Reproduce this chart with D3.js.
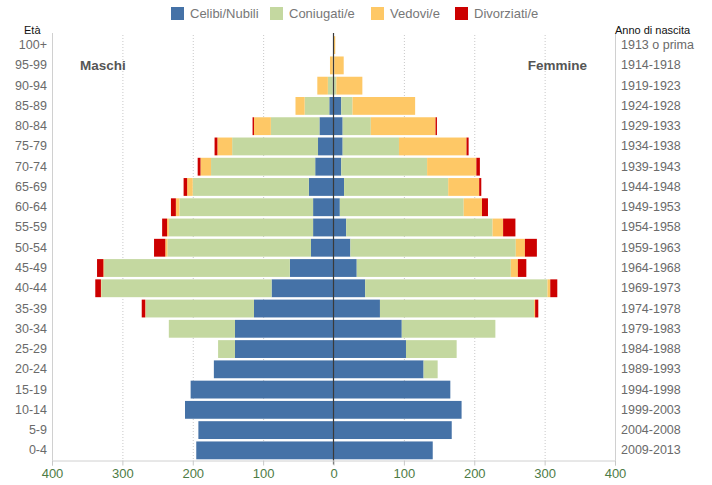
<!DOCTYPE html>
<html><head><meta charset="utf-8">
<script src="https://cdn.jsdelivr.net/npm/d3@7"></script>
<style>
html,body{margin:0;padding:0;background:#fff;}
svg{display:block;font-family:"Liberation Sans",Arial,sans-serif;}
</style></head>
<body><svg id="c" width="712" height="485"></svg>
<script>
const ages = ["100+","95-99","90-94","85-89","80-84","75-79","70-74","65-69","60-64","55-59","50-54","45-49","40-44","35-39","30-34","25-29","20-24","15-19","10-14","5-9","0-4"];
const years = ["1913 o prima","1914-1918","1919-1923","1924-1928","1929-1933","1934-1938","1939-1943","1944-1948","1949-1953","1954-1958","1959-1963","1964-1968","1969-1973","1974-1978","1979-1983","1984-1988","1989-1993","1994-1998","1999-2003","2004-2008","2009-2013"];
const seriesNames = ["Celibi/Nubili","Coniugati/e","Vedovi/e","Divorziati/e"];
const seriesColors = ["#4572a7","#c4d8a0","#fec866","#cc0000"];

const maleCelibi     = [0, 0, 1, 6, 20, 22, 26, 35, 29, 29, 32, 62, 88, 113, 140, 140, 170, 203, 211, 192, 195];
const maleConiugati  = [0, 1, 7, 35, 69, 122, 148, 165, 190, 205, 204, 264, 242, 154, 94, 24, 0, 0, 0, 0, 0];
const maleVedovi     = [0.5, 4, 15, 13, 24, 21, 15, 8, 5, 2.5, 3, 1, 0.5, 0.5, 0, 0, 0, 0, 0, 0, 0];
const maleDivorziati = [0, 0, 0, 0, 2, 4, 4, 5, 7, 7, 16, 9, 8, 5, 0, 0, 0, 0, 0, 0, 0];

const femaleNubili     = [0.5, 0.5, 1, 11, 13, 13, 11, 15, 9, 18, 24, 33, 45, 66, 97, 103, 128, 166, 182, 168, 141];
const femaleConiugate  = [0, 0.5, 3, 16, 40, 80, 122, 148, 176, 208, 235, 219, 259, 219, 133, 72, 20, 0, 0, 0, 0];
const femaleVedove     = [2, 13.5, 37, 89, 92, 96, 70, 44, 26, 15, 13, 10, 4, 1.5, 0, 0, 0, 0, 0, 0, 0];
const femaleDivorziate = [0, 0, 0, 0, 2, 3, 5, 3, 8.5, 17.5, 17, 12, 10, 4.5, 0, 0, 0, 0, 0, 0, 0];

const xTicks = [-400,-300,-200,-100,0,100,200,300,400];

const svg = d3.select("#c");
const pLeft = 52, pRight = 615, pTop = 35, pBottom = 460.5;

const x = d3.scaleLinear().domain([-400,400]).range([pLeft,pRight]);
const y = d3.scaleBand().domain(ages).range([pTop,pBottom]).paddingInner(0.12).paddingOuter(0.06);
const yR = d3.scaleBand().domain(years).range([pTop,pBottom]).paddingInner(0.12).paddingOuter(0.06);

// gridlines
svg.append("g").selectAll("line").data(xTicks.filter(t=>t!==0 && Math.abs(t)!==400)).join("line")
  .attr("x1",d=>x(d)+0.5).attr("x2",d=>x(d)+0.5).attr("y1",pTop).attr("y2",pBottom)
  .attr("stroke","#c8c8c8").attr("stroke-width",1).attr("stroke-dasharray","1,2");

// side lines
[pLeft,pRight].forEach(px=>{
  svg.append("line").attr("x1",px+0.5).attr("x2",px+0.5).attr("y1",pTop-2).attr("y2",pBottom)
    .attr("stroke","#d0d0d0");
});

// stacked bars
const maleSeries = [maleCelibi, maleConiugati, maleVedovi, maleDivorziati];
const femaleSeries = [femaleNubili, femaleConiugate, femaleVedove, femaleDivorziate];
const gBars = svg.append("g");
ages.forEach((a,i)=>{
  let cum = 0;
  maleSeries.forEach((s,k)=>{
    const v = s[i];
    if(v>0){
      gBars.append("rect")
        .attr("x", x(-(cum+v))).attr("width", x(-cum)-x(-(cum+v)))
        .attr("y", y(a)).attr("height", y.bandwidth())
        .attr("fill", seriesColors[k]);
    }
    cum += v;
  });
  cum = 0;
  femaleSeries.forEach((s,k)=>{
    const v = s[i];
    if(v>0){
      gBars.append("rect")
        .attr("x", x(cum)).attr("width", x(cum+v)-x(cum))
        .attr("y", y(a)).attr("height", y.bandwidth())
        .attr("fill", seriesColors[k]);
    }
    cum += v;
  });
});

// center line
svg.append("line").attr("x1",x(0)).attr("x2",x(0)).attr("y1",pTop-2).attr("y2",pBottom+4)
  .attr("stroke","#3a3a3a").attr("stroke-width",1.2);

// bottom axis
const xa = svg.append("g").attr("transform",`translate(0,${pBottom})`)
  .call(d3.axisBottom(x).tickValues(xTicks).tickFormat(d=>Math.abs(d)).tickSize(5).tickPadding(3));
xa.select(".domain").attr("stroke","#d0d0d0");
xa.selectAll(".tick line").attr("stroke","#c8c8c8");
xa.selectAll("text").attr("fill","#4d7b45").attr("font-size","13px")
  .attr("font-family","'Liberation Sans',Arial,sans-serif");

// left labels
const ya = svg.append("g").attr("transform",`translate(${pLeft-5},0)`)
  .call(d3.axisLeft(y).tickSize(0).tickPadding(0));
ya.select(".domain").remove();
ya.selectAll("text").attr("fill","#6a6a6a").attr("font-size","12.5px")
  .attr("font-family","'Liberation Sans',Arial,sans-serif");

// right labels
const yra = svg.append("g").attr("transform",`translate(${pRight+6},0)`)
  .call(d3.axisRight(yR).tickSize(0).tickPadding(0));
yra.select(".domain").remove();
yra.selectAll("text").attr("fill","#6a6a6a").attr("font-size","12.5px")
  .attr("font-family","'Liberation Sans',Arial,sans-serif");

// titles
svg.append("text").attr("x",24).attr("y",34).attr("font-size","11px").attr("fill","#111").text("Età");
svg.append("text").attr("x",615).attr("y",34).attr("font-size","11px").attr("fill","#111").text("Anno di nascita");
svg.append("text").attr("x",80).attr("y",y("95-99")+y.bandwidth()/2).attr("dy","0.35em")
  .attr("font-size","13.5px").attr("font-weight","bold").attr("fill","#555").text("Maschi");
svg.append("text").attr("x",587).attr("y",y("95-99")+y.bandwidth()/2).attr("dy","0.35em").attr("text-anchor","end")
  .attr("font-size","13.5px").attr("font-weight","bold").attr("fill","#555").text("Femmine");

// legend
const legX = [171, 270, 371, 455];
const leg = svg.append("g");
seriesNames.forEach((n,k)=>{
  leg.append("rect").attr("x",legX[k]).attr("y",7).attr("width",13).attr("height",13).attr("fill",seriesColors[k]);
  leg.append("text").attr("x",legX[k]+19).attr("y",13.5).attr("dy","0.35em")
    .attr("font-size","13px").attr("fill","#777").text(n);
});
</script>
</body></html>
